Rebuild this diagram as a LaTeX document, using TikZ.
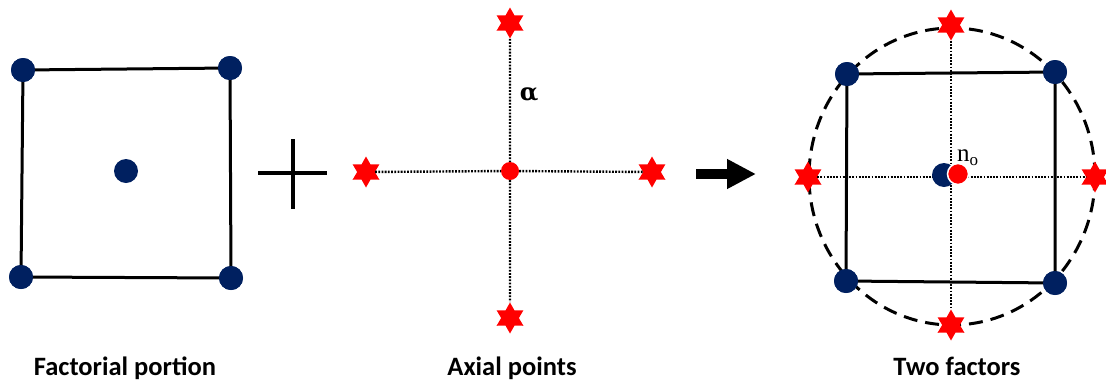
\documentclass[tikz,border=0pt]{standalone}
\usepackage{fontspec}
\setmainfont{Carlito}
\newfontfamily\greekfont{DejaVu Serif}
\newfontfamily\labelserif{Liberation Serif}
\usetikzlibrary{shapes.geometric,arrows.meta}
\definecolor{navy}{HTML}{002060}
\definecolor{pred}{HTML}{FF0000}
\tikzset{
  bdot/.style={circle,fill=navy,minimum size=24pt,inner sep=0pt},
  rdot/.style={circle,fill=pred,minimum size=18pt,inner sep=0pt},
  rstar/.style={star,star points=6,star point ratio=1.75,fill=pred,minimum size=31pt,inner sep=0pt},
  edge/.style={line width=3pt,black},
  dotline/.style={line width=2.4pt,dash pattern=on 1.8pt off 1.4pt},
  caption/.style={font=\bfseries\fontsize{26.5}{26.5}\selectfont,anchor=base}
}
\begin{document}
\begin{tikzpicture}[x=1pt,y=-1pt]
\useasboundingbox (0,0) rectangle (1106,381);
% ---------- factorial portion
\node[bdot] (f1) at (23,70) {};
\node[bdot] (f2) at (230,68) {};
\node[bdot] (f3) at (21,277) {};
\node[bdot] (f4) at (231,278) {};
\draw[edge] (f1.center) -- (f2.center) -- (f4.center) -- (f3.center) -- cycle;
\node[bdot] at (f1) {};\node[bdot] at (f2) {};\node[bdot] at (f3) {};\node[bdot] at (f4) {};
\node[bdot] (fc) at (126,171) {};
% ---------- plus
\coordinate (p1) at (258,173);\coordinate (p2) at (327,173);
\coordinate (p3) at (293,139);\coordinate (p4) at (293,209);
\draw[line width=3.2pt] (p1) -- (p2) (p3) -- (p4);
% ---------- axial points
\node[rdot] (ac) at (510,171) {};
\node[rstar] (at) at (510,23) {};
\node[rstar] (ab) at (510,318) {};
\node[rstar] (al) at (366,172) {};
\node[rstar] (ar) at (652,172) {};
\draw[dotline] (at) -- (ac) -- (ab) (al) -- (ac) -- (ar);
\node[font=\greekfont\bfseries\fontsize{24}{24}\selectfont] (alpha) at (529,95) {α};
% ---------- arrow
\coordinate (a1) at (696,174);\coordinate (a2) at (756,174);
\draw[line width=10pt,-{Triangle[length=29pt 0,width=28pt 0]}] (a1) -- (a2);
% ---------- two factors
\coordinate (ec) at (952,176.5);
\draw[line width=3pt,dash pattern=on 14pt off 8pt] (ec) ellipse [x radius=143,y radius=148.5];
\node[rstar] (tt) at (951,25) {};
\node[rstar] (tb) at (951,325) {};
\node[rstar] (tl) at (808,177) {};
\node[rstar] (tr) at (1095,177) {};
\node[bdot] (t1) at (847,74) {};
\node[bdot] (t2) at (1055,72) {};
\node[bdot] (t3) at (846,281) {};
\node[bdot] (t4) at (1055,283) {};
\draw[dotline] (tt) -- (tb) (tl) -- (tr);
\draw[edge] (t1.center) -- (t2.center) -- (t4.center) -- (t3.center) -- cycle;
\node[bdot] at (t1) {};\node[bdot] at (t2) {};\node[bdot] at (t3) {};\node[bdot] at (t4) {};
\node[bdot] (tcb) at (944,175) {};
\node[rdot,draw=white,line width=1.5pt,minimum size=21pt] (tcr) at (958,174) {};
\node[font=\labelserif\fontsize{25}{25}\selectfont,anchor=base west,inner sep=0pt] (no) at (957,161) {n\raisebox{-4pt}{\fontsize{17}{17}\selectfont o}};
% ---------- captions
\node[caption] (c1) at (125,375) {Factorial portion};
\node[caption] (c2) at (512,375) {Axial points};
\node[caption] (c3) at (957,375) {Two factors};
\end{tikzpicture}
\end{document}
